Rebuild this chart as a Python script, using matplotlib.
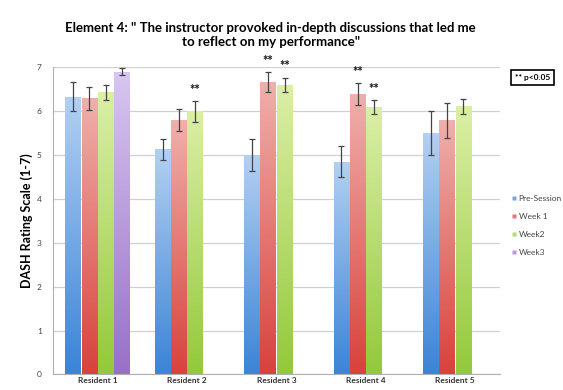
import numpy as np
import matplotlib.pyplot as plt
import matplotlib.colors as mcolors
from matplotlib.lines import Line2D

plt.rcParams['font.family'] = ['Lato', 'DejaVu Sans']

# Data
residents = ['Resident 1', 'Resident 2', 'Resident 3', 'Resident 4', 'Resident 5']
series = ['Pre-Session', 'Week 1', 'Week2', 'Week3']
pre_session = [6.33, 5.13, 5.00, 4.85, 5.50]
week1 = [6.30, 5.80, 6.67, 6.40, 5.80]
week2 = [6.43, 6.00, 6.60, 6.10, 6.12]
week3 = [6.90, np.nan, np.nan, np.nan, np.nan]
err_pre = [0.33, 0.25, 0.37, 0.35, 0.50]
err_w1 = [0.26, 0.25, 0.22, 0.25, 0.40]
err_w2 = [0.18, 0.24, 0.17, 0.16, 0.17]
err_w3 = [0.08, np.nan, np.nan, np.nan, np.nan]
# significance flags (p<0.05) per series
sig_pre = [0, 0, 0, 0, 0]
sig_w1 = [0, 0, 1, 1, 0]
sig_w2 = [0, 1, 1, 1, 0]
sig_w3 = [0, 0, 0, 0, 0]

values = [pre_session, week1, week2, week3]
errors = [err_pre, err_w1, err_w2, err_w3]
sigs = [sig_pre, sig_w1, sig_w2, sig_w3]
# (top, bottom) gradient colours for each series
grads = [('#b3d0f2', '#3b84d6'),
         ('#f0b0ac', '#d8423c'),
         ('#dcefa6', '#93c93a'),
         ('#d8c6f0', '#9870c8')]

fig = plt.figure(figsize=(5.63, 3.9), dpi=100)
ax = fig.add_axes([0.094, 0.040, 0.794, 0.787])

x = np.arange(len(residents))
w = 0.182
ax.set_xlim(-0.5, len(residents) - 0.5)
ax.set_ylim(0, 7)

for i, (vals, errs, sg, (ctop, cbot)) in enumerate(zip(values, errors, sigs, grads)):
    pos = x + (i - 1.5) * w
    bars = ax.bar(pos, vals, width=w * 0.96, color='none', edgecolor='none', zorder=2)
    cmap = mcolors.LinearSegmentedColormap.from_list('g%d' % i, [cbot, ctop])
    grad = np.linspace(0, 1, 256).reshape(-1, 1)
    for b, v in zip(bars, vals):
        if np.isnan(v):
            continue
        im = ax.imshow(grad, cmap=cmap, origin='lower', aspect='auto',
                       extent=(b.get_x(), b.get_x() + b.get_width(), 0, v), zorder=2)
        im.set_clip_path(b)
    ax.errorbar(pos, vals, yerr=errs, fmt='none', ecolor='#444444',
                elinewidth=0.9, capsize=2.5, capthick=0.9, zorder=3)
    for p, v, e, s in zip(pos, vals, errs, sg):
        if s:
            ax.text(p, v + e + 0.12, '**', ha='center', va='bottom',
                    fontsize=9, fontweight='heavy', color='#222222', clip_on=False)

ax.set_xlim(-0.5, len(residents) - 0.5)
ax.set_ylim(0, 7)
ax.set_yticks(range(8))
ax.yaxis.grid(True, color='#d0d0d0', linewidth=0.9)
ax.set_axisbelow(True)
ax.set_xticks(x)
ax.set_xticklabels(residents, fontsize=6, fontweight='bold', color='#333333')
ax.tick_params(axis='y', labelsize=6, colors='#444444', length=0, pad=8)
ax.tick_params(axis='x', length=0, pad=2)
for s in ['top', 'right']:
    ax.spines[s].set_visible(False)
ax.spines['left'].set_color('#b0b0b0')
ax.spines['bottom'].set_color('#b0b0b0')
ax.set_ylabel('DASH Rating Scale (1-7)', fontsize=9, fontweight='bold', labelpad=3)

fig.text(0.481, 0.909, 'Element 4: " The instructor provoked in-depth discussions that led me\nto reflect on my performance"',
         ha='center', va='center', fontsize=9.5, fontweight='bold', linespacing=1.2)

handles = [Line2D([], [], marker='s', linestyle='none', markersize=3.5,
                  markerfacecolor=mcolors.to_hex(np.mean([mcolors.to_rgb(c) for c in g], axis=0)),
                  markeredgecolor='none') for g in grads]
ax.legend(handles, series, loc='center left', bbox_to_anchor=(1.01, 0.485),
          frameon=False, fontsize=6, handlelength=0.6, handletextpad=0.2,
          labelspacing=1.3, labelcolor='#444444')

fig.text(0.9455, 0.801, '** p<0.05', ha='center', va='center', fontsize=6,
         fontweight='bold',
         bbox=dict(boxstyle='square,pad=0.5', facecolor='white', edgecolor='black', linewidth=1.2))

fig.savefig('out.png', dpi=100)
